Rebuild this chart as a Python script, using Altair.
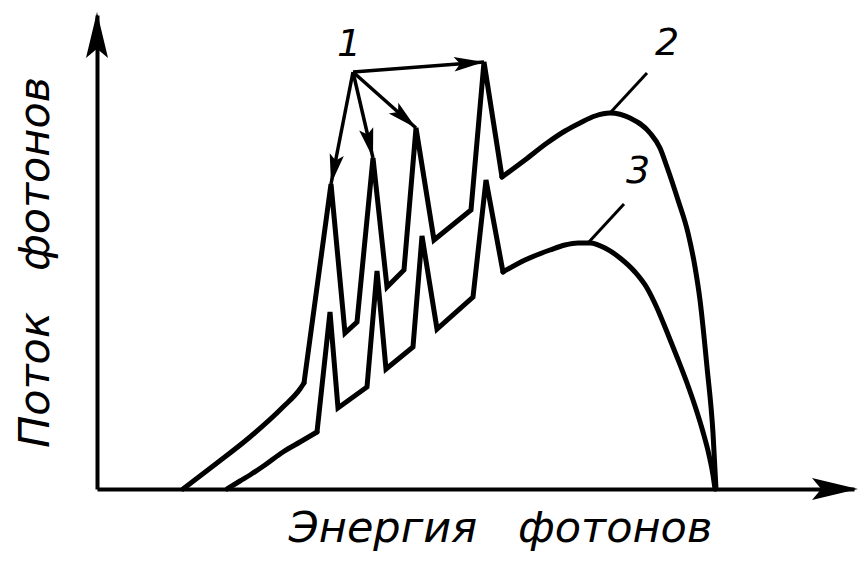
import math

import altair as alt
import pandas as pd

# Photon flux versus photon energy, arbitrary units (1 unit = 1 px on screen).
# Curve 2: upper spectrum with four sharp lines; curve 3: lower spectrum.
energy_2 = [86, 120, 153, 186, 203, 207, 234, 248, 260, 276, 290, 307, 319, 337,
            374, 387, 405, 428, 450, 468, 483, 498, 513, 533, 553, 563, 570, 581,
            591, 598, 603, 610, 616, 619]
flux_2 = [0, 26, 52, 82, 100, 106, 305, 156, 167, 331, 202, 219, 361, 249,
          279, 427, 312, 329, 346, 358, 366, 373, 376, 371, 356, 341, 322, 289,
          256, 222, 189, 122, 56, 0]
# index ranges drawn as smooth curves; the rest is straight segments
smooth_2 = [(0, 5), (16, 33)]

energy_3 = [130, 143, 153, 168, 186, 203, 220, 233, 241, 270, 280, 289, 316, 325,
            340, 376, 389, 406, 428, 453, 468, 481, 493, 508, 523, 538, 550, 560,
            570, 580, 590, 598, 606, 612, 616, 618]
flux_3 = [0, 8, 14, 24, 37, 47, 57, 177, 81, 102, 218, 120, 142, 253,
          160, 192, 309, 217, 229, 239, 244, 246, 246, 241, 231, 217, 201, 181,
          157, 132, 106, 83, 57, 34, 14, 0]
smooth_3 = [(0, 6), (17, 35)]

# Label "1" points at the four line peaks of curve 2
fan_origin_energy = 256
fan_origin_flux = 417
peak_index_2 = [6, 9, 12, 15]

# Curve numbers and their leader lines
label_text = ["1", "2", "3"]
label_energy = [252, 570, 541]
label_flux = [444, 445, 317]

leader_energy = [550, 527]
leader_flux = [416, 285]
leader_end_energy = [513, 491]
leader_end_flux = [376, 246]

X_MAX, Y_MAX = 757, 474
FONT = "DejaVu Sans"

# Notched arrowhead pointing along +x with its tip at the symbol origin
ARROW_PATH = "M0,0 L-1,-0.24 L-0.8,0 L-1,0.24 Z"


def split_curve(name, energy, flux, smooth):
    """Cut a curve into smooth and straight pieces that share end points."""
    bounds = []
    pos = 0
    for a, b in smooth:
        if a > pos:
            bounds.append((pos, a, "sharp"))
        bounds.append((a, b, "smooth"))
        pos = b
    if pos < len(energy) - 1:
        bounds.append((pos, len(energy) - 1, "sharp"))
    rows = []
    for k, (a, b, kind) in enumerate(bounds):
        for i in range(a, b + 1):
            rows.append({"energy": energy[i], "flux": flux[i], "kind": kind,
                         "seg": f"{name}-{k}", "i": i})
    return rows


curves = pd.DataFrame(split_curve("2", energy_2, flux_2, smooth_2)
                      + split_curve("3", energy_3, flux_3, smooth_3))

arrows = pd.DataFrame({
    "x0": [fan_origin_energy] * len(peak_index_2),
    "y0": [fan_origin_flux] * len(peak_index_2),
    "x1": [energy_2[k] for k in peak_index_2],
    "y1": [flux_2[k] for k in peak_index_2],
})
arrows["angle"] = [
    math.degrees(math.atan2(-(r.y1 - r.y0), r.x1 - r.x0)) % 360
    for r in arrows.itertuples()
]
arrows["size"] = 4 * 30 ** 2

axis_heads = pd.DataFrame({
    "x1": [X_MAX + 4, 0],
    "y1": [0, Y_MAX + 3],
    "angle": [0, 270],
    "size": [4 * 46 ** 2, 4 * 46 ** 2],
})
heads = pd.concat([arrows[["x1", "y1", "angle", "size"]], axis_heads])

labels = pd.DataFrame({"t": label_text, "x": label_energy, "y": label_flux})
leaders = pd.DataFrame({"x0": leader_energy, "y0": leader_flux,
                        "x1": leader_end_energy, "y1": leader_end_flux})

xs = alt.Scale(domain=[0, X_MAX], nice=False, zero=False)
ys = alt.Scale(domain=[0, Y_MAX], nice=False, zero=False)

x_axis = alt.Axis(
    title="Энергия\u00a0\u00a0\u00a0фотонов", titleFont=FONT,
    titleFontStyle="italic", titleFontWeight="normal", titleFontSize=43,
    titleColor="black", titleX=403, titleY=52, titleAlign="center",
    titleBaseline="alphabetic", domainColor="black", domainWidth=4,
    ticks=False, labels=False, grid=False,
)
y_axis = alt.Axis(
    title="Поток\u00a0\u00a0\u00a0фотонов", titleFont=FONT,
    titleFontStyle="italic", titleFontWeight="normal", titleFontSize=43,
    titleColor="black", titleAngle=270, titleX=-49, titleY=247,
    titleAlign="center", titleBaseline="alphabetic", domainColor="black",
    domainWidth=4, ticks=False, labels=False, grid=False,
)


def X(field):
    return alt.X(field, type="quantitative", scale=xs, axis=x_axis)


def Y(field):
    return alt.Y(field, type="quantitative", scale=ys, axis=y_axis)


line_style = dict(color="black", strokeWidth=5, strokeJoin="miter",
                  strokeMiterLimit=6, strokeCap="round")

sharp_lines = alt.Chart(curves).transform_filter(
    alt.datum.kind == "sharp"
).mark_line(interpolate="linear", **line_style).encode(
    x=X("energy"), y=Y("flux"), detail="seg:N", order="i:Q",
)

smooth_lines = alt.Chart(curves).transform_filter(
    alt.datum.kind == "smooth"
).mark_line(interpolate="monotone", **line_style).encode(
    x=X("energy"), y=Y("flux"), detail="seg:N", order="i:Q",
)

fan = alt.Chart(arrows).mark_rule(color="black", strokeWidth=3.5).encode(
    x=X("x0"), y=Y("y0"), x2="x1:Q", y2="y1:Q",
)

heads_layer = alt.Chart(heads).mark_point(
    shape=ARROW_PATH, filled=True, color="black", opacity=1, strokeWidth=0
).encode(
    x=X("x1"), y=Y("y1"),
    angle=alt.Angle("angle:Q", scale=None),
    size=alt.Size("size:Q", scale=None),
)

leader_layer = alt.Chart(leaders).mark_rule(color="black", strokeWidth=3).encode(
    x=X("x0"), y=Y("y0"), x2="x1:Q", y2="y1:Q",
)

label_layer = alt.Chart(labels).mark_text(
    font=FONT, fontStyle="italic", fontSize=38, color="black",
    align="center", baseline="middle",
).encode(
    x=X("x"), y=Y("y"), text="t:N",
)

chart = alt.layer(
    sharp_lines, smooth_lines, fan, leader_layer, heads_layer, label_layer
).properties(
    width=X_MAX,
    height=Y_MAX,
    autosize=alt.AutoSizeParams(type="none"),
    padding={"left": 97, "top": 15, "right": 6, "bottom": 74},
    background="white",
).configure_view(stroke=None)

chart.save("out.html", embed_options={"renderer": "svg", "actions": False})
